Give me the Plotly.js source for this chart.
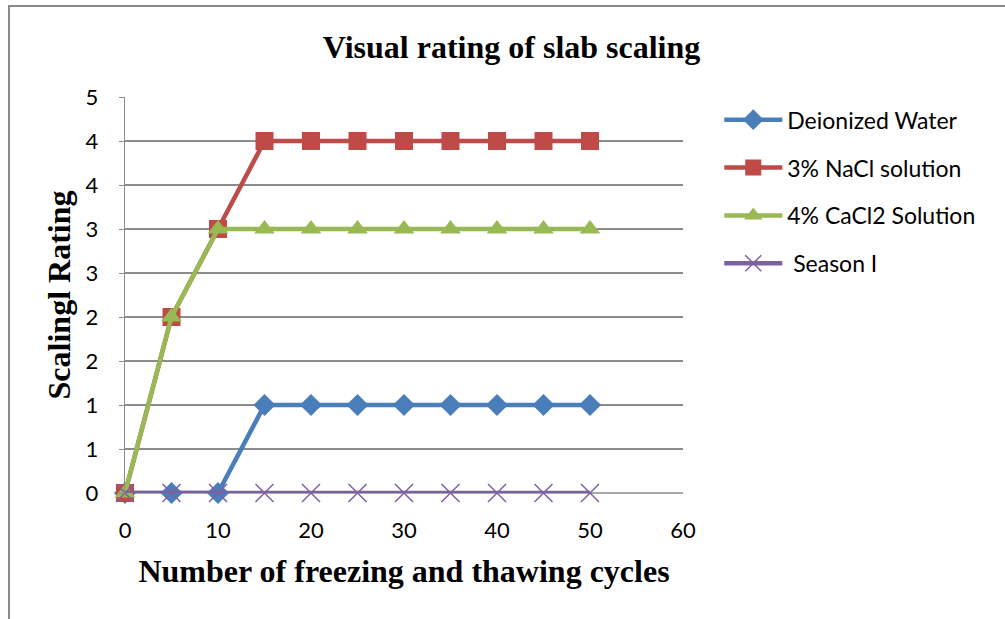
<!DOCTYPE html>
<html>
<head>
<meta charset="utf-8">
<script src="https://cdn.plot.ly/plotly-3.0.1.min.js"></script>
<style>html,body{margin:0;padding:0;background:#fff;}#chart{width:1005px;height:619px;}</style>
</head>
<body>
<div id="chart"></div>
<script>
const cycles = [0, 5, 10, 15, 20, 25, 30, 35, 40, 45, 50];
const deionizedWater = [0, 0, 0, 1, 1, 1, 1, 1, 1, 1, 1];
const nacl3 = [0, 2, 3, 4, 4, 4, 4, 4, 4, 4, 4];
const cacl2_4 = [0, 2, 3, 3, 3, 3, 3, 3, 3, 3, 3];
const seasonI = [0, 0, 0, 0, 0, 0, 0, 0, 0, 0, 0];
const yTickVals = [0, 0.5, 1, 1.5, 2, 2.5, 3, 3.5, 4, 4.5];
const yTickText = ['0', '1', '1', '2', '2', '3', '3', '4', '4', '5'];
const xTickVals = [0, 10, 20, 30, 40, 50, 60];

const tickFont = {family: 'Lato, "Open Sans", sans-serif', size: 22, color: '#000'};
const serif = '"Liberation Serif", "Times New Roman", serif';
const traces = [
  {name: 'Deionized Water', y: deionizedWater, color: '#4A7EBB', symbol: 'diamond', size: 17, lw: 0},
  {name: '3% NaCl solution', y: nacl3, color: '#BE4B48', symbol: 'square', size: 18, lw: 0},
  {name: '4% CaCl2 Solution', y: cacl2_4, color: '#98B954', symbol: 'triangle-up', size: 18, lw: 0},
  {name: ' Season I', y: seasonI, color: '#7D60A0', symbol: 'x-thin', size: 18, lw: 1.5}
].map((t, i) => ({
  type: 'scatter', mode: 'lines+markers', x: cycles, y: t.y, name: t.name,
  legendgroup: 'g' + i,
  line: {color: t.color, width: 4.5},
  marker: {symbol: t.symbol, size: t.size, color: t.color, line: {color: t.color, width: t.lw}},
  cliponaxis: false
}));

const layout = {
  width: 1005, height: 619,
  paper_bgcolor: '#fff', plot_bgcolor: '#fff',
  margin: {l: 125, r: 322, t: 97, b: 126},
  title: {text: '<b>Visual rating of slab scaling</b>', font: {family: serif, size: 32, color: '#000'}, x: 0.509, xref: 'container', xanchor: 'center', y: 1 - 47 / 619, yref: 'container', yanchor: 'middle'},
  showlegend: true,
  legend: {x: 1.065, y: 0.997, xanchor: 'left', yanchor: 'top', font: {family: 'Lato, "Open Sans", sans-serif', size: 23, color: '#000'}, tracegroupgap: 15, bgcolor: 'rgba(0,0,0,0)', itemwidth: 58},
  xaxis: {
    range: [0, 60], tickvals: xTickVals, ticktext: xTickVals.map(String),
    showgrid: false, zeroline: false, showline: false,
    ticks: '', tickfont: tickFont, ticklabelstandoff: 22,
    title: {text: '<b>Number of freezing and thawing cycles</b>', font: {family: serif, size: 32, color: '#000'}, standoff: 17}
  },
  yaxis: {
    range: [0, 4.5], tickvals: yTickVals, ticktext: yTickText,
    showgrid: true, gridcolor: '#8c8c8c', gridwidth: 1.3,
    zeroline: false, showline: true, linecolor: '#8c8c8c', linewidth: 1.3,
    ticks: 'outside', ticklen: 5, tickcolor: '#8c8c8c', tickfont: tickFont, ticklabelstandoff: 16,
    title: {text: '<b>Scalingl Rating</b>', font: {family: serif, size: 32, color: '#000'}, standoff: 5}
  },
  shapes: [
    {type: 'line', xref: 'paper', yref: 'paper', x0: 0, x1: 1, y0: 0, y1: 0, line: {color: '#8c8c8c', width: 1.3}, layer: 'below'},
    {type: 'rect', xref: 'paper', yref: 'paper',
     x0: (9 - 125) / 558, x1: (1040 - 125) / 558, y0: (493 - 640) / 396, y1: (493 - 6) / 396,
     line: {color: '#8a8a8a', width: 2}, fillcolor: 'rgba(0,0,0,0)', layer: 'below'}
  ]
};

Plotly.newPlot('chart', traces, layout, {displayModeBar: false, staticPlot: true});
</script>
</body>
</html>
